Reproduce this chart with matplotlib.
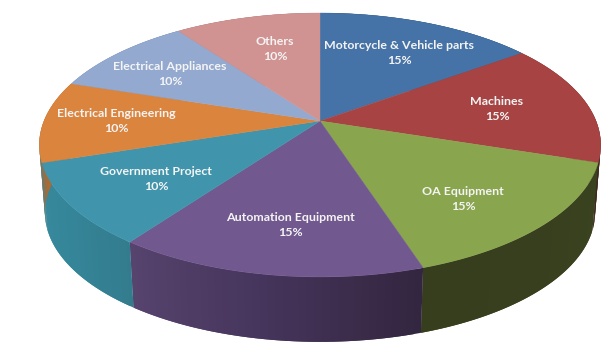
import numpy as np
import matplotlib
matplotlib.use("Agg")
import matplotlib.pyplot as plt
from matplotlib.colors import to_rgb

categories = ["Motorcycle & Vehicle parts", "Machines", "OA Equipment", "Automation Equipment",
              "Government Project", "Electrical Engineering", "Electrical Appliances", "Others"]
values = [15, 15, 15, 15, 10, 10, 10, 10]
top_colors = ["#4572a7", "#a74443", "#89a54e", "#71588f", "#4095ad", "#da843e", "#93a9cf", "#d09392"]
side_start = ["#2b4668", "#6a2a2a", "#3a4320", "#33263f", "#337c8e", "#3a8698", "#6f82a0", "#a07070"]
side_mid = ["#2b4668", "#622626", "#383f1e", "#45345a", "#358598", "#b06a30", "#6f82a0", "#a07070"]
side_end = ["#2b4668", "#3a2a1c", "#373e1d", "#57446f", "#38899d", "#b06a30", "#6f82a0", "#a07070"]
label_x = [399, 497, 463, 290, 156, 116, 170, 275]
label_y = [53, 109, 199, 225, 179, 121, 74, 49]

CX, CY, A, B, K, S, D = 320, 121, 276, 127.6, 0.1818, 0.98, 68


def project(theta, radius=1.0, scale=1.0, drop=0.0):
    u, v = radius * np.sin(theta), radius * np.cos(theta)
    w = 1 + K * v
    return CX + scale * A * u / w, CY + drop + scale * B * (-v) / w


fig = plt.figure(figsize=(6.1, 3.53), dpi=100)
ax = fig.add_axes([0, 0, 1, 1])
ax.set_xlim(0, 610)
ax.set_ylim(353, 0)
ax.axis("off")

edges = np.cumsum([0] + values) / sum(values) * 2 * np.pi

# side walls: overlapping strips so no seams show between them
for i in range(len(values)):
    t = np.linspace(edges[i], edges[i + 1], 41)
    c0, c1, c2 = map(lambda c: np.array(to_rgb(c)), (side_start[i], side_mid[i], side_end[i]))
    for j in range(len(t) - 1):
        f = (j + 0.5) / (len(t) - 1)
        col = c0 + (c1 - c0) * f * 2 if f < 0.5 else c1 + (c2 - c1) * (f - 0.5) * 2
        seg = np.linspace(t[j], t[min(j + 2, len(t) - 1)], 4)
        x1, y1 = project(seg)
        x2, y2 = project(seg[::-1], scale=S, drop=D)
        ax.fill(np.r_[x1, x2], np.r_[y1, y2], color=col, lw=0, zorder=2 + 0.001 * i)

# top surface
for i in range(len(values)):
    t = np.linspace(edges[i], edges[i + 1], 80)
    x, y = project(t)
    ax.fill(np.r_[CX, x], np.r_[CY, y], color=top_colors[i], lw=0.3, zorder=3)

for name, val, x, y in zip(categories, values, label_x, label_y):
    ax.text(x, y, f"{name}\n{val}%", ha="center", va="center", color="#f4f4f4",
            family="Lato", weight="bold", fontsize=8.9, linespacing=1.5, zorder=5)

fig.savefig("out.png", dpi=100)
